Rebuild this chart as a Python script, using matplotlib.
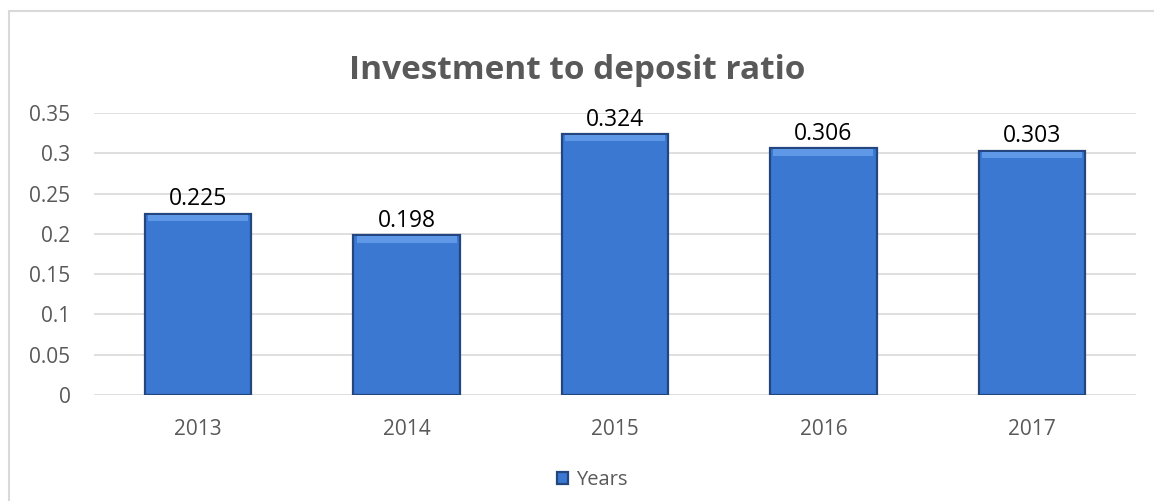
import matplotlib.pyplot as plt
from matplotlib.patches import Rectangle

years = ['2013', '2014', '2015', '2016', '2017']
ratio = [0.225, 0.198, 0.324, 0.306, 0.303]
yticks = [0, 0.05, 0.1, 0.15, 0.2, 0.25, 0.3, 0.35]
ytick_labels = ['0', '0.05', '0.1', '0.15', '0.2', '0.25', '0.3', '0.35']

plt.rcParams['font.family'] = ['Open Sans', 'DejaVu Sans']

fig = plt.figure(figsize=(11.54, 5.01), dpi=100)
W, H = 1154, 501
ax = fig.add_axes([94 / W, 1 - 395 / H, 1042 / W, (395 - 113) / H])

x = range(len(years))
bars = ax.bar(x, ratio, width=0.51, color='#3A78D2', edgecolor='#23467E',
              linewidth=1.6, label='Years', zorder=3)
# light top bevel
ax.bar(x, [0.008] * len(ratio), bottom=[r - 0.009 for r in ratio], width=0.48,
       color='#5E98E6', linewidth=0, zorder=4)

for xi, v in zip(x, ratio):
    ax.text(xi, v + 0.003, f'{v:.3f}', ha='center', va='bottom',
            fontsize=16.5, color='black', zorder=5)

ax.set_xlim(-0.5, len(years) - 0.5)
ax.set_ylim(0, 0.35)
ax.set_yticks(yticks)
ax.set_yticklabels(ytick_labels)
ax.set_xticks(list(x))
ax.set_xticklabels(years)
ax.tick_params(axis='both', length=0, labelsize=15, colors='#595959')
ax.tick_params(axis='y', pad=17)
ax.tick_params(axis='x', pad=17)
ax.grid(axis='y', color='#D9D9D9', linewidth=1.2, zorder=0)
for s in ax.spines.values():
    s.set_visible(False)

fig.text(0.5, 1 - 79 / H, 'Investment to deposit ratio', ha='center', va='baseline',
         fontsize=24, fontweight='bold', color='#595959')

leg = fig.legend([bars[0]], ['Years'], loc='center', bbox_to_anchor=(592 / W, 1 - 480 / H),
                 frameon=False, fontsize=14.5, handlelength=0.55, handleheight=0.55,
                 handletextpad=0.4, labelcolor='#595959')

fig.patches.append(Rectangle((9 / W, -0.1), 1.2, 1.1 - 11 / H, transform=fig.transFigure,
                             fill=False, edgecolor='#D9D9D9', linewidth=1.5))

plt.savefig('out.png', dpi=100)
